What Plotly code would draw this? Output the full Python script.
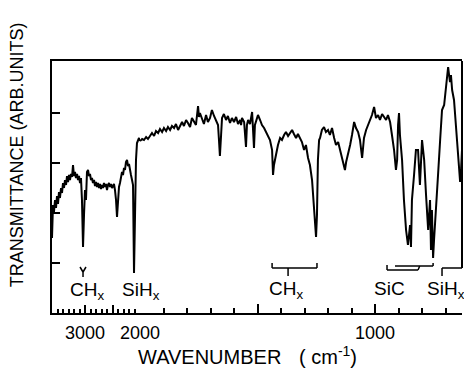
import plotly.graph_objects as go

# ---- data (wavenumber in cm^-1, transmittance in arbitrary units) ----
left_wn = [3600, 3582, 3564, 3545, 3527, 3509, 3491, 3473, 3455, 3436, 3418, 3400, 3382, 3364, 3345,
           3327, 3309, 3291, 3273, 3255, 3236, 3218, 3200, 3182, 3164, 3145, 3127, 3109, 3091, 3073,
           3055, 3036, 3018, 3000, 2982, 2964, 2945, 2927, 2909, 2891, 2873, 2855, 2836, 2818, 2800,
           2782, 2764, 2745, 2727, 2709, 2691, 2673, 2655, 2636, 2618, 2600, 2582, 2564, 2545, 2527,
           2509, 2491, 2473, 2455, 2436, 2418, 2400, 2382, 2364, 2345, 2327, 2309, 2291, 2273, 2255,
           2236, 2218, 2200, 2182, 2164, 2145, 2127, 2109, 2091, 2073, 2055, 2036, 2018, 2000]
left_T = [75, 108, 101, 113, 105, 117, 109, 121, 115, 125, 120, 130, 125, 133, 128,
          137, 131, 138, 133, 139, 136, 148, 137, 141, 135, 139, 133, 137, 130, 135,
          113, 66, 98, 123, 113, 141, 143, 137, 139, 133, 135, 130, 133, 127, 131,
          126, 130, 125, 129, 124, 128, 125, 130, 126, 129, 123, 128, 130, 126, 129,
          125, 127, 129, 123, 113, 96, 113, 126, 130, 135, 141, 138, 145, 143, 151,
          153, 147, 149, 141, 138, 133, 128, 40, 123, 153, 170, 173, 175, 172]

right_wn = [2000, 1991, 1983, 1974, 1966, 1957, 1949, 1940, 1932, 1923, 1915, 1906, 1898, 1889, 1881,
            1872, 1864, 1855, 1847, 1838, 1830, 1821, 1813, 1804, 1796, 1787, 1779, 1770, 1762, 1753,
            1749, 1745, 1736, 1728, 1719, 1711, 1702, 1694, 1685, 1677, 1668, 1664, 1660, 1655, 1651,
            1643, 1634, 1626, 1617, 1609, 1600, 1591, 1583, 1574, 1570, 1566, 1557, 1549, 1545, 1540,
            1532, 1523, 1519, 1515, 1511, 1502, 1498, 1489, 1481, 1472, 1464, 1455, 1447, 1438, 1434,
            1430, 1421, 1413, 1404, 1396, 1387, 1379, 1370, 1362, 1353, 1345, 1336, 1328, 1319, 1311,
            1302, 1294, 1285, 1277, 1268, 1260, 1251, 1247, 1243, 1238, 1234, 1226, 1217, 1209, 1200,
            1192, 1183, 1174, 1166, 1157, 1149, 1140, 1132, 1128, 1123, 1115, 1106, 1098, 1089, 1081,
            1072, 1064, 1060, 1055, 1051, 1047, 1038, 1030, 1021, 1013, 1004, 1000, 996, 987, 979,
            970, 962, 953, 945, 936, 928, 919, 911, 906, 902, 898, 894, 885, 877, 868,
            860, 851, 847, 843, 834, 826, 817, 809, 800, 791, 783, 774, 766, 762, 758,
            753, 749, 740, 732, 723, 715, 706, 698, 689, 685, 681, 677, 672, 664, 655,
            647, 638, 634, 630]
right_T = [172, 174, 173, 176, 174, 177, 180, 177, 182, 180, 184, 181, 185, 182, 186,
           183, 187, 185, 189, 183, 187, 191, 187, 193, 190, 186, 195, 191, 188, 207,
           196, 200, 193, 189, 198, 191, 195, 203, 197, 193, 188, 173, 157, 178, 195,
           199, 193, 197, 190, 195, 191, 196, 189, 193, 188, 195, 191, 166, 188, 193,
           189, 201, 178, 165, 188, 195, 198, 193, 188, 185, 181, 177, 173, 163, 138,
           148, 161, 168, 175, 173, 178, 181, 177, 180, 183, 179, 175, 179, 174, 171,
           163, 168, 155, 148, 133, 103, 76, 98, 153, 173, 175, 183, 186, 181, 183,
           178, 185, 175, 168, 171, 163, 155, 148, 143, 151, 158, 168, 178, 191, 185,
           181, 173, 163, 155, 165, 175, 183, 188, 193, 198, 206, 201, 195, 198, 193,
           199, 196, 193, 198, 191, 178, 163, 143, 153, 188, 200, 178, 153, 113, 83,
           68, 88, 66, 113, 138, 163, 163, 128, 173, 153, 118, 83, 113, 63, 103,
           55, 73, 113, 138, 173, 203, 208, 228, 246, 238, 231, 238, 223, 213, 183,
           153, 131, 143, 163]

left_ticks = [3000, 2500, 2000]
left_ticktext = ["3000", "", "2000"]
right_ticks = [1500, 1000]
right_ticktext = ["", "1000"]
left_minor = [3600, 3500, 3400, 3300, 3200, 3100, 2900, 2800, 2700, 2600, 2400, 2300, 2200, 2100]
right_minor = [1900, 1800, 1700, 1600, 1400, 1300, 1200, 1100, 900, 800, 700]
y_ticks = [50, 100, 150, 200]

FONT = "Liberation Sans"
split = (140 - 52) / 410.0

fig = go.Figure()
fig.add_trace(go.Scatter(x=left_wn, y=left_T, mode="lines", xaxis="x", yaxis="y",
                         line=dict(color="black", width=2), showlegend=False))
fig.add_trace(go.Scatter(x=right_wn, y=right_T, mode="lines", xaxis="x2", yaxis="y",
                         line=dict(color="black", width=2), showlegend=False))

axis_common = dict(showgrid=False, zeroline=False, showline=True, linecolor="black", linewidth=2,
                   ticks="inside", tickcolor="black", tickwidth=1.5, mirror=True, automargin=False,
                   ticklabelstandoff=2,
                   tickfont=dict(family=FONT, size=18, color="black"))
fig.update_layout(
    width=464, height=370, autosize=False,
    margin=dict(l=52, r=2, t=61, b=57, autoexpand=False),
    paper_bgcolor="white", plot_bgcolor="white",
    xaxis=dict(domain=[0, split], range=[3600, 2000], tickvals=left_ticks, ticktext=left_ticktext,
               ticklen=8, minor=dict(tickvals=left_minor, ticklen=4, ticks="inside", tickcolor="black"),
               anchor="y", **axis_common),
    xaxis2=dict(domain=[split, 1], range=[2000, 630], tickvals=right_ticks, ticktext=right_ticktext,
                ticklen=9, minor=dict(tickvals=right_minor, ticklen=5, ticks="inside", tickcolor="black"),
                anchor="y", **axis_common),
    yaxis=dict(range=[0, 252], tickvals=y_ticks, showticklabels=False, ticklen=8, automargin=False,
               showgrid=False, zeroline=False, showline=True, linecolor="black", linewidth=2,
               ticks="inside", tickcolor="black", tickwidth=1.5),
)

lab_font = dict(family=FONT, size=19, color="black")
annotations = [
    dict(text="TRANSMITTANCE (ARB.UNITS)", xref="paper", yref="paper", x=-0.085, y=0.627,
         textangle=-90, showarrow=False, font=dict(family=FONT, size=18, color="black"),
         xanchor="center", yanchor="middle"),
    dict(text="WAVENUMBER", xref="paper", yref="paper", x=0.385, y=-0.176, showarrow=False,
         font=dict(family=FONT, size=20, color="black"), xanchor="center", yanchor="middle"),
    dict(text="( cm<sup>-1</sup>)", xref="paper", yref="paper", x=0.672, y=-0.168, showarrow=False,
         font=dict(family=FONT, size=20, color="black"), xanchor="center", yanchor="middle"),
    dict(text="CH<sub>x</sub>", xref="x", yref="y", x=2964, y=22, showarrow=False, font=lab_font),
    dict(text="SiH<sub>x</sub>", xref="x2", yref="y", x=1996, y=22, showarrow=False, font=lab_font),
    dict(text="CH<sub>x</sub>", xref="x2", yref="y", x=1379, y=23, showarrow=False, font=lab_font),
    dict(text="SiC", xref="x2", yref="y", x=940, y=25, showarrow=False, font=lab_font),
    dict(text="SiH<sub>x</sub>", xref="x2", yref="y", x=700, y=23, showarrow=False, font=lab_font),
]
fig.update_layout(annotations=annotations)

ln = dict(color="black", width=1.5)
shapes = [
    # Y marker for left CHx
    dict(type="line", xref="x", yref="y", x0=3091, y0=46, x1=3036, y1=41, line=ln),
    dict(type="line", xref="x", yref="y", x0=2982, y0=46, x1=3036, y1=41, line=ln),
    dict(type="line", xref="x", yref="y", x0=3036, y0=41, x1=3036, y1=36, line=ln),
    # middle CHx bracket
    dict(type="line", xref="x2", yref="y", x0=1438, y0=45, x1=1247, y1=45, line=ln),
    dict(type="line", xref="x2", yref="y", x0=1438, y0=45, x1=1438, y1=50, line=ln),
    dict(type="line", xref="x2", yref="y", x0=1247, y0=45, x1=1247, y1=50, line=ln),
    dict(type="line", xref="x2", yref="y", x0=1370, y0=45, x1=1370, y1=37, line=ln),
    # SiC double bracket
    dict(type="line", xref="x2", yref="y", x0=915, y0=47, x1=753, y1=47, line=ln),
    dict(type="line", xref="x2", yref="y", x0=753, y0=47, x1=753, y1=50, line=ln),
    dict(type="line", xref="x2", yref="y", x0=949, y0=43, x1=817, y1=43, line=ln),
    dict(type="line", xref="x2", yref="y", x0=949, y0=43, x1=949, y1=48, line=ln),
    dict(type="line", xref="x2", yref="y", x0=817, y0=43, x1=810, y1=47, line=ln),
    # SiHx bracket joined to the right frame
    dict(type="line", xref="paper", yref="y", x0=1, y0=252, x1=1, y1=45, line=dict(color="black", width=2)),
    dict(type="line", xref="x2", yref="y", x0=715, y0=45, x1=630, y1=45, line=ln),
    dict(type="line", xref="x2", yref="y", x0=715, y0=45, x1=715, y1=37, line=ln),
]
fig.update_layout(shapes=shapes)

fig.write_html("out.html")
